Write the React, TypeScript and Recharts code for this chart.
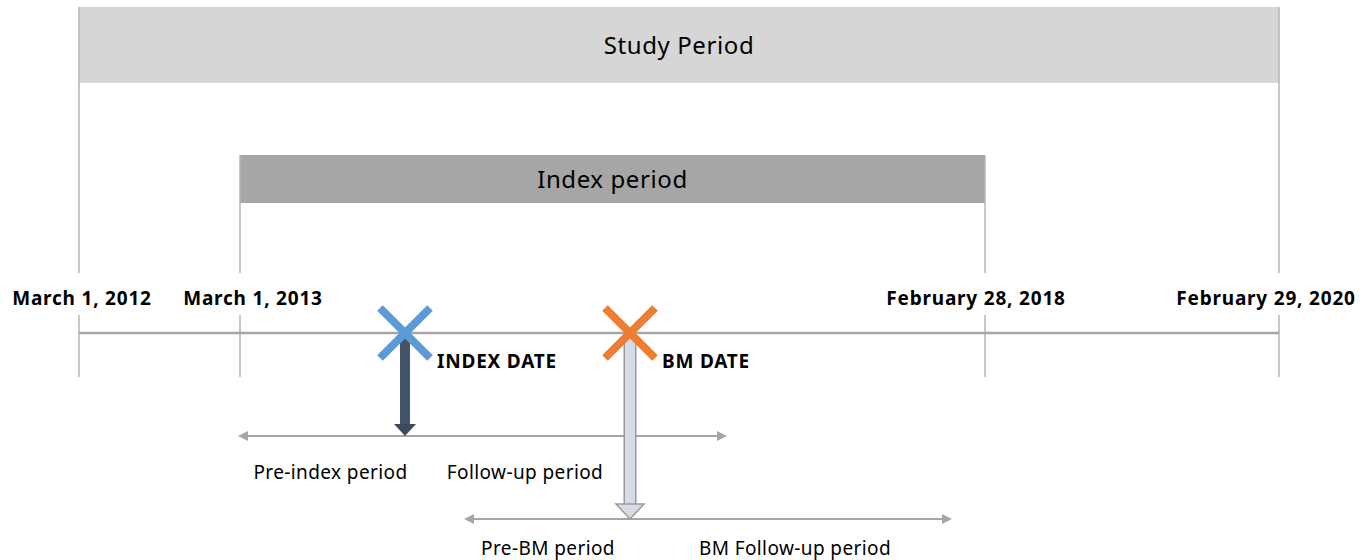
import { ReferenceArea, ReferenceLine, Scatter, ScatterChart, XAxis, YAxis } from "recharts";

const W = 1372;
const H = 560;
const FONT = "'Noto Sans', 'Open Sans', sans-serif";

// Schematic timeline (the figure is not to scale): positions along the axis.
const periodNames = ["Study Period", "Index period"];
const periodStart = [79, 240];
const periodEnd = [1279, 985];

const boundaryLabels = ["March 1, 2012", "March 1, 2013", "February 28, 2018", "February 29, 2020"];
const boundaryPos = [79, 240, 985, 1279];

const eventNames = ["INDEX DATE", "BM DATE"];
const eventPos = [405, 630];

const windowStart = [240, 466];
const windowEnd = [725, 950];
const windowBefore = ["Pre-index period", "Pre-BM period"];
const windowAfter = ["Follow-up period", "BM Follow-up period"];

// layout rows (y domain is the page height, top to bottom)
const ROW = {
  studyTop: 7,
  studyBottom: 83,
  indexTop: 155,
  indexBottom: 203,
  gapTop: 273,
  dateLabel: 298,
  gapBottom: 315,
  timeline: 333,
  tickBottom: 377,
  eventLabel: 361,
  windows: [436, 519],
  windowLabels: [472, 548],
};
const labelNudge = [3, 13, -9, -13];
const windowNudge = [[8, -40], [0, 5]];
const eventColors = ["#5b9bd5", "#ed7d31"];
const LINE = "#b4b4b4";

type ShapeProps = { cx?: number; cy?: number; payload?: any };

const TextShape = (props: ShapeProps) => {
  const { cx = 0, cy = 0, payload } = props;
  return (
    <text
      x={cx + (payload.dx ?? 0)}
      y={cy}
      textAnchor={payload.anchor ?? "middle"}
      dominantBaseline="central"
      fontFamily={FONT}
      fontSize={19}
      letterSpacing={payload.bold ? 0.8 : 0.4}
      fontWeight={payload.bold ? 700 : 400}
      fill="#000"
    >
      {payload.text}
    </text>
  );
};

const CrossShape = (props: ShapeProps) => {
  const { cx = 0, cy = 0, payload } = props;
  const r = 25;
  return (
    <g stroke={payload.color} strokeWidth={8}>
      <line x1={cx - r} y1={cy - r} x2={cx + r} y2={cy + r} />
      <line x1={cx - r} y1={cy + r} x2={cx + r} y2={cy - r} />
    </g>
  );
};

const TipShape = (props: ShapeProps) => {
  const { cx = 0, cy = 0, payload } = props;
  if (!payload.dir) return <g />;
  const s = payload.dir === "left" ? -1 : 1;
  return (
    <polygon
      points={`${cx + s * 2},${cy} ${cx - s * 8},${cy - 5} ${cx - s * 8},${cy + 5}`}
      fill="#a6a6a6"
    />
  );
};

const DarkHead = (props: ShapeProps) => {
  const { cx = 0, cy = 0, payload } = props;
  if (!payload.head) return <g />;
  return <polygon points={`${cx - 11},${cy} ${cx + 11},${cy} ${cx},${cy + 12}`} fill="#3d4b5f" />;
};

const LightHead = (props: ShapeProps) => {
  const { cx = 0, cy = 0, payload } = props;
  if (!payload.head) return <g />;
  return (
    <polygon
      points={`${cx - 14},${cy} ${cx + 14},${cy} ${cx},${cy + 15}`}
      fill="#d6dce5"
      stroke="#9a9a9a"
      strokeWidth={1.5}
    />
  );
};

export default function App() {
  const dateTexts = boundaryLabels.map((t, i) => ({
    x: boundaryPos[i],
    y: ROW.dateLabel,
    text: t,
    bold: true,
    dx: labelNudge[i],
  }));
  const eventTexts = eventNames.map((t, i) => ({
    x: eventPos[i],
    y: ROW.eventLabel,
    text: t,
    bold: true,
    anchor: "start",
    dx: 32,
  }));
  const windowTexts = windowBefore.flatMap((t, i) => [
    { x: (windowStart[i] + eventPos[i]) / 2, y: ROW.windowLabels[i], text: t, dx: windowNudge[i][0] },
    {
      x: (eventPos[i] + windowEnd[i]) / 2,
      y: ROW.windowLabels[i],
      text: windowAfter[i],
      dx: windowNudge[i][1],
    },
  ]);
  const crosses = eventPos.map((x, i) => ({ x, y: ROW.timeline, color: eventColors[i] }));

  return (
    <div style={{ position: "absolute", left: 0, top: 0, width: W, height: H, background: "#fff" }}>
      <ScatterChart width={W} height={H} margin={{ top: 0, right: 0, bottom: 0, left: 0 }}>
        <XAxis type="number" dataKey="x" domain={[0, W]} hide allowDataOverflow />
        <YAxis type="number" dataKey="y" domain={[0, H]} reversed hide allowDataOverflow />

        {periodNames.map((name, i) => (
          <ReferenceArea
            key={name}
            x1={periodStart[i]}
            x2={periodEnd[i]}
            y1={i === 0 ? ROW.studyTop : ROW.indexTop}
            y2={i === 0 ? ROW.studyBottom : ROW.indexBottom}
            fill={i === 0 ? "#d6d6d6" : "#a6a6a6"}
            fillOpacity={1}
            stroke="none"
            label={{
              value: name,
              position: "center",
              fill: "#000",
              fontSize: 24,
              fontFamily: FONT,
              letterSpacing: 0.6,
            }}
          />
        ))}

        {boundaryPos.map((x, i) => {
          const top = i === 0 || i === 3 ? ROW.studyTop : ROW.indexTop;
          return [
            <ReferenceLine
              key={`a${x}`}
              segment={[{ x, y: top }, { x, y: ROW.gapTop }]}
              stroke={LINE}
              strokeWidth={1.5}
            />,
            <ReferenceLine
              key={`b${x}`}
              segment={[{ x, y: ROW.gapBottom }, { x, y: ROW.tickBottom }]}
              stroke={LINE}
              strokeWidth={1.5}
            />,
          ];
        })}

        <ReferenceLine
          segment={[
            { x: boundaryPos[0], y: ROW.timeline },
            { x: boundaryPos[3], y: ROW.timeline },
          ]}
          stroke="#a6a6a6"
          strokeWidth={2.5}
        />

        {windowStart.map((x, i) => (
          <Scatter
            key={`w${i}`}
            data={[
              { x, y: ROW.windows[i], dir: "left" },
              { x: windowEnd[i], y: ROW.windows[i], dir: "right" },
            ]}
            line={{ stroke: "#a6a6a6", strokeWidth: 2 }}
            shape={TipShape}
            isAnimationActive={false}
          />
        ))}

        <Scatter
          data={[
            { x: eventPos[0], y: ROW.timeline + 4 },
            { x: eventPos[0], y: ROW.windows[0] - 12, head: true },
          ]}
          line={{ stroke: "#44546a", strokeWidth: 10 }}
          shape={DarkHead}
          isAnimationActive={false}
        />
        <Scatter
          data={[
            { x: eventPos[1], y: ROW.timeline + 4 },
            { x: eventPos[1], y: ROW.windows[1] - 14 },
          ]}
          line={{ stroke: "#9a9a9a", strokeWidth: 13 }}
          shape={() => <g />}
          isAnimationActive={false}
        />
        <Scatter
          data={[
            { x: eventPos[1], y: ROW.timeline + 4 },
            { x: eventPos[1], y: ROW.windows[1] - 15, head: true },
          ]}
          line={{ stroke: "#d6dce5", strokeWidth: 10 }}
          shape={LightHead}
          isAnimationActive={false}
        />

        <Scatter data={crosses} shape={CrossShape} isAnimationActive={false} />
        <Scatter data={dateTexts} shape={TextShape} isAnimationActive={false} />
        <Scatter data={eventTexts} shape={TextShape} isAnimationActive={false} />
        <Scatter data={windowTexts} shape={TextShape} isAnimationActive={false} />
      </ScatterChart>
    </div>
  );
}
